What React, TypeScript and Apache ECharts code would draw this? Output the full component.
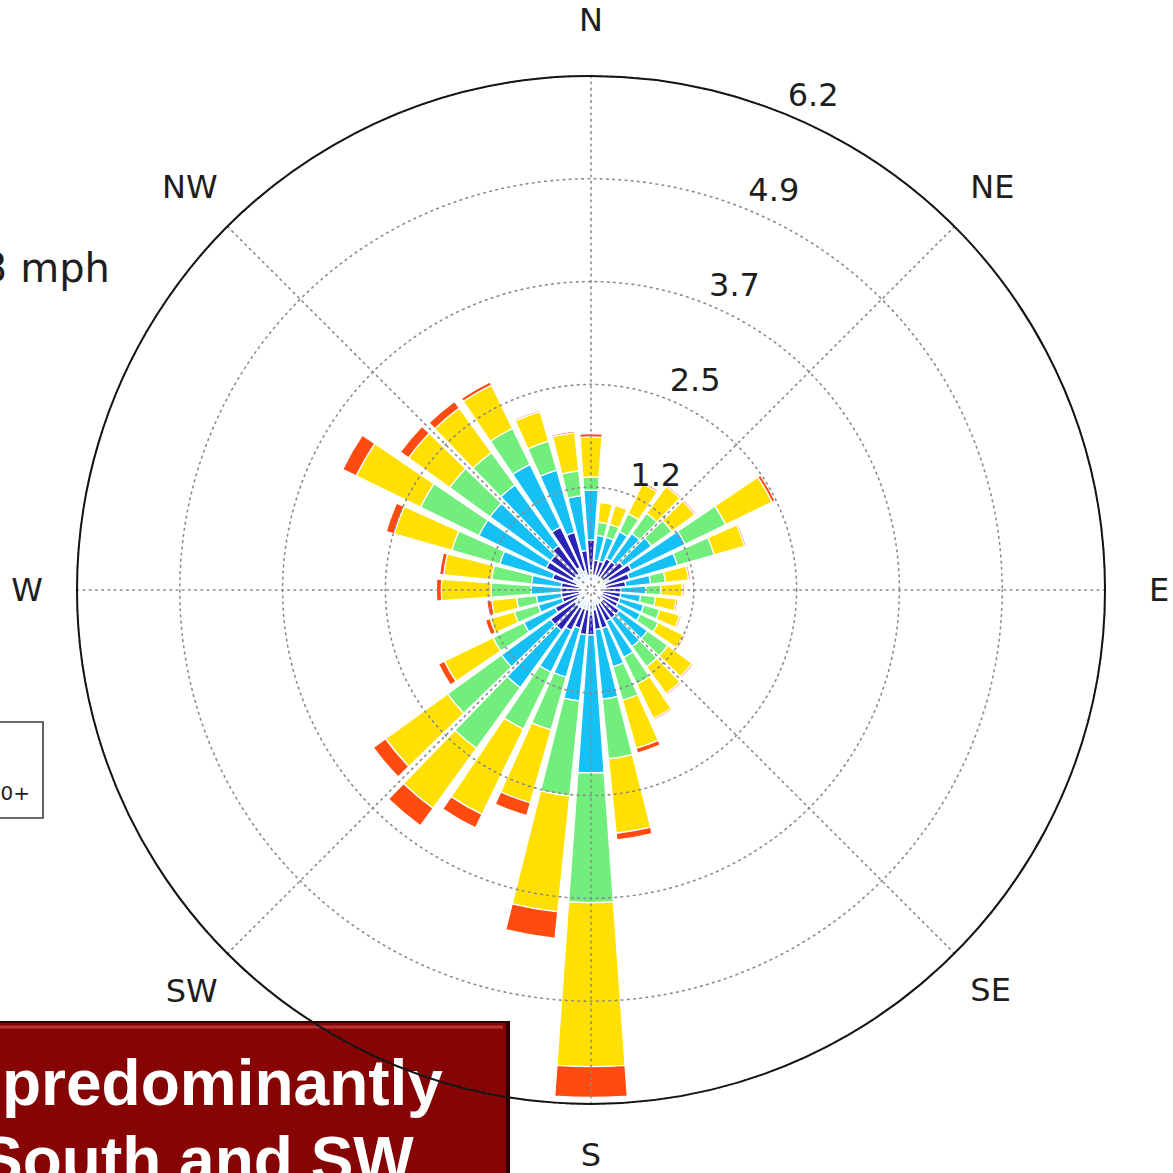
import React, { useEffect, useRef } from 'react';
import * as echarts from 'echarts';

// wind directions (degrees, clockwise from North)
const DIRECTIONS = ['0', '10', '20', '30', '40', '50', '60', '70', '80', '90', '100', '110', '120', '130', '140', '150', '160', '170', '180', '190', '200', '210', '220', '230', '240', '250', '260', '270', '280', '290', '300', '310', '320', '330', '340', '350'];
const COMPASS = ['N', 'NE', 'E', 'SE', 'S', 'SW', 'W', 'NW'];
const RING_LABELS = ['1.2', '2.5', '3.7', '4.9', '6.2'];
const RMAX = 6.18;
const RSTEP = 1.236;

const SPEED_BINS = ['0-2', '2-4', '4-6', '6-8', '8-10', '10+'];
const BIN_COLORS = ['#bfe4f7', '#2a24b4', '#14c0f4', '#72ee7c', '#ffe000', '#ff4a10'];

// frequency (%) per direction for each speed bin
const BIN0 = [0.24, 0.18, 0.18, 0.18, 0.18, 0.18, 0.24, 0.18, 0.18, 0.14, 0.14, 0.14, 0.14, 0.18, 0.18, 0.18, 0.18, 0.24, 0.30, 0.24, 0.24, 0.24, 0.24, 0.24, 0.18, 0.14, 0.14, 0.14, 0.14, 0.18, 0.24, 0.24, 0.24, 0.30, 0.24, 0.18];
const BIN1 = [0.36, 0.18, 0.18, 0.24, 0.24, 0.30, 0.30, 0.30, 0.24, 0.22, 0.22, 0.22, 0.22, 0.24, 0.24, 0.24, 0.30, 0.24, 0.24, 0.30, 0.24, 0.30, 0.36, 0.36, 0.30, 0.22, 0.22, 0.22, 0.22, 0.30, 0.36, 0.36, 0.42, 0.54, 0.48, 0.30];
const BIN2 = [0.60, 0.30, 0.30, 0.36, 0.42, 0.42, 0.72, 0.60, 0.30, 0.30, 0.24, 0.30, 0.30, 0.42, 0.42, 0.48, 0.48, 0.84, 1.66, 0.80, 0.61, 0.56, 0.85, 0.73, 0.42, 0.30, 0.30, 0.36, 0.36, 0.66, 0.90, 0.90, 0.90, 0.84, 0.78, 0.66];
const BIN3 = [0.16, 0.16, 0.16, 0.24, 0.30, 0.30, 0.54, 0.46, 0.18, 0.18, 0.18, 0.20, 0.24, 0.30, 0.30, 0.36, 0.42, 0.72, 1.56, 1.15, 0.66, 0.76, 0.90, 0.80, 0.41, 0.30, 0.24, 0.48, 0.48, 0.60, 0.78, 0.60, 0.48, 0.48, 0.36, 0.30];
const BIN4 = [0.48, 0.24, 0.24, 0.40, 0.40, 0.34, 0.62, 0.38, 0.28, 0.26, 0.25, 0.25, 0.34, 0.36, 0.40, 0.46, 0.60, 0.90, 1.97, 1.40, 0.91, 1.14, 0.89, 0.92, 0.65, 0.30, 0.30, 0.60, 0.58, 0.72, 0.86, 0.61, 0.66, 0.58, 0.37, 0.46];
const BIN5 = [0.04, 0.01, 0.01, 0.02, 0.02, 0.02, 0.04, 0.02, 0.02, 0.02, 0.02, 0.02, 0.02, 0.02, 0.02, 0.02, 0.06, 0.08, 0.37, 0.32, 0.16, 0.18, 0.26, 0.18, 0.08, 0.06, 0.06, 0.06, 0.05, 0.10, 0.18, 0.12, 0.10, 0.04, 0.02, 0.02];
const BIN_DATA = [BIN0, BIN1, BIN2, BIN3, BIN4, BIN5];

export default function App() {
  const ref = useRef<HTMLDivElement>(null);
  useEffect(() => {
    document.body.style.margin = '0';
    const chart = echarts.init(ref.current as HTMLDivElement, null, { renderer: 'svg' });
    const CX = 591, CY = 590, R = 514;
    const font = 'DejaVu Sans';
    const dotted = { color: '#8a8a8a', width: 1.6, type: [1.6, 4.6] as any, cap: 'round' as any };
    const compassRich: any = {
      n: { padding: [0, 0, 26, 0] },
      ne: { padding: [0, 0, 14, 6] },
      e: { padding: [0, 0, 0, 30] },
      se: { padding: [11, 0, 0, 6] },
      s: { padding: [21, 0, 0, 0] },
      sw: { padding: [12, 0, 0, 0] },
      w: { padding: [0, 20, 0, 0] },
      nw: { padding: [0, 0, 14, 0] },
    };
    Object.keys(compassRich).forEach((k) => {
      compassRich[k] = { ...compassRich[k], fontSize: 32, fontFamily: font, color: '#1e1e1e' };
    });
    const option: any = {
      animation: false,
      backgroundColor: '#ffffff',
      polar: [
        { center: [CX, CY], radius: R },
        { center: [CX, CY], radius: R },
        { center: [CX, CY], radius: R },
      ],
      angleAxis: [
        {
          polarIndex: 0, type: 'category', data: DIRECTIONS, startAngle: 95, clockwise: true,
          axisLine: { show: false }, axisTick: { show: false }, axisLabel: { show: false }, splitLine: { show: false },
        },
        {
          polarIndex: 1, type: 'value', min: 0, max: 360, interval: 45, startAngle: 90, clockwise: true, z: 10,
          axisLine: { show: true, lineStyle: { color: '#141414', width: 2 } },
          axisTick: { show: false },
          axisLabel: {
            margin: 14, fontSize: 32, fontFamily: font, color: '#1e1e1e', rich: compassRich,
            formatter: (v: number) => {
              if (v >= 360) return '';
              const name = COMPASS[Math.round(v / 45)] || '';
              return name ? `{${name.toLowerCase()}|${name}}` : '';
            },
          },
          splitLine: { show: true, lineStyle: dotted },
        },
        {
          polarIndex: 2, type: 'value', min: 0, max: 360, startAngle: 67.5, clockwise: true,
          axisLine: { show: false }, axisTick: { show: false }, axisLabel: { show: false }, splitLine: { show: false },
        },
      ],
      radiusAxis: [
        { polarIndex: 0, min: 0, max: RMAX, axisLine: { show: false }, axisTick: { show: false }, axisLabel: { show: false }, splitLine: { show: false } },
        {
          polarIndex: 1, min: 0, max: RMAX, interval: RSTEP, z: 10,
          axisLine: { show: false }, axisTick: { show: false }, axisLabel: { show: false },
          splitLine: { show: true, lineStyle: dotted },
        },
        {
          polarIndex: 2, min: 0, max: RMAX, interval: RSTEP, z: 11,
          axisLine: { show: false }, axisTick: { show: false }, splitLine: { show: false },
          axisLabel: {
            show: true, margin: 0, align: 'left', verticalAlign: 'bottom', showMinLabel: false,
            fontSize: 32, fontFamily: font, color: '#1e1e1e', padding: [0, 0, 4, 0],
            formatter: (v: number) => {
              const i = Math.round(v / RSTEP);
              return i <= 0 ? '' : RING_LABELS[i - 1] || '';
            },
          },
        },
      ],
      series: SPEED_BINS.map((name, k) => ({
        type: 'bar', name, coordinateSystem: 'polar', polarIndex: 0, stack: 'wind',
        data: BIN_DATA[k], barCategoryGap: '18%', z: 2,
        itemStyle: { color: BIN_COLORS[k], borderColor: '#ffffff', borderWidth: 1.3 },
      })),
      graphic: [
        { type: 'text', x: -18, y: 268, style: { text: '3 mph', font: `40px "${font}"`, fill: '#1e1e1e', verticalAlign: 'middle' } },
        { type: 'rect', shape: { x: -100, y: 722, width: 143, height: 96 }, style: { fill: '#ffffff', stroke: '#3c3c3c', lineWidth: 1.6 } },
        { type: 'text', x: 30, y: 793, style: { text: '10+', font: `20px "${font}"`, fill: '#1e1e1e', align: 'right', verticalAlign: 'middle' } },
        { type: 'rect', shape: { x: -20, y: 1021, width: 530, height: 200 }, style: { fill: '#2c0000' } },
        { type: 'rect', shape: { x: -20, y: 1023, width: 526, height: 200 }, style: { fill: '#860404' } },
        { type: 'line', shape: { x1: -20, y1: 1027, x2: 503, y2: 1027 }, style: { stroke: '#b33434', lineWidth: 3 } },
        { type: 'text', x: 2, y: 1083, style: { text: 'predominantly', font: 'bold 64px "Liberation Sans"', fill: '#ffffff', verticalAlign: 'middle' } },
        { type: 'text', x: -20, y: 1160, style: { text: 'South and SW', font: 'bold 64px "Liberation Sans"', fill: '#ffffff', verticalAlign: 'middle' } },
      ],
    };
    chart.setOption(option);
    return () => chart.dispose();
  }, []);
  return <div ref={ref} style={{ width: 1173, height: 1173 }} />;
}
